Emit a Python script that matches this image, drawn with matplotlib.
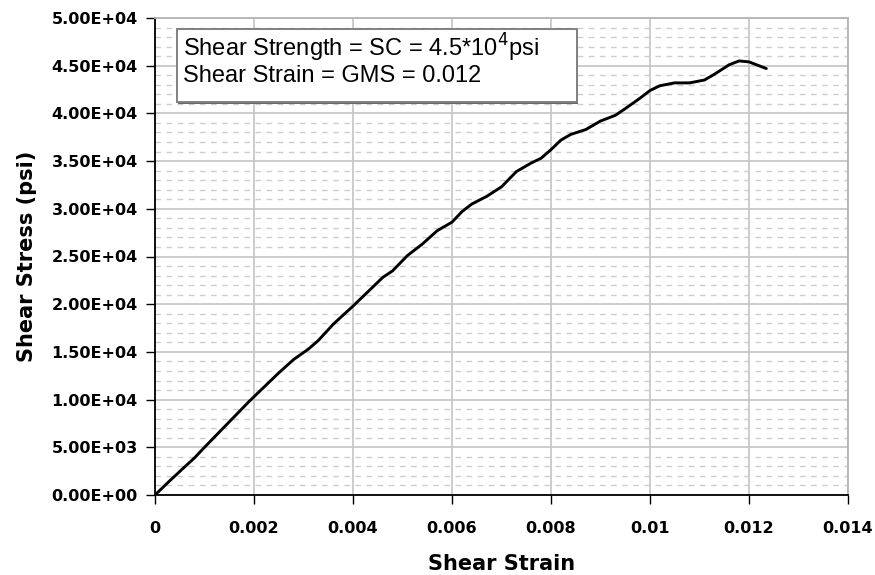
import numpy as np
from matplotlib import pyplot as plt
from matplotlib.patches import Rectangle
from matplotlib.ticker import MultipleLocator, FuncFormatter

# shear strain / shear stress
strain = [0, 0.0003, 0.0006, 0.0008, 0.0010, 0.0013, 0.0016, 0.0019, 0.0022,
          0.0025, 0.0028, 0.0031, 0.0033, 0.0036, 0.0040, 0.0043, 0.0046,
          0.0048, 0.0051, 0.0054, 0.0057, 0.0060, 0.0062, 0.0064, 0.0067,
          0.0070, 0.0073, 0.0076, 0.0078, 0.0080, 0.0082, 0.0084, 0.0087,
          0.0090, 0.0093, 0.0095, 0.0098, 0.0100, 0.0102, 0.0105, 0.0108,
          0.0111, 0.0113, 0.0116, 0.0118, 0.0120, 0.0122, 0.01235]
stress = [0, 1500, 2950, 3900, 5000, 6600, 8200, 9800, 11300,
          12800, 14200, 15300, 16200, 17900, 19800, 21300, 22800,
          23500, 25100, 26300, 27700, 28600, 29700, 30500, 31300,
          32300, 33900, 34800, 35300, 36200, 37200, 37800, 38300,
          39200, 39800, 40500, 41600, 42400, 42900, 43200, 43200,
          43500, 44100, 45100, 45500, 45400, 45000, 44700]

box_lines = ['Shear Strength = SC = 4.5*10$^{4}$psi',
             'Shear Strain = GMS = 0.012']

fig = plt.figure(figsize=(8.75, 5.75), dpi=100)
ax = fig.add_axes([155/875, 1-495/575, 693/875, 477/575])

#grid: solid at major ticks, dashed at minor y ticks
ax.set_axisbelow(True)
ax.xaxis.set_major_locator(MultipleLocator(0.002))
ax.yaxis.set_major_locator(MultipleLocator(5000))
ax.yaxis.set_minor_locator(MultipleLocator(1000))
ax.grid(which='major', color='#c4c4c4', linewidth=1.2, linestyle='-')
ax.yaxis.grid(which='minor', color='#cdcdcd', linewidth=1.0,
              linestyle=(0, (4, 4)))

ax.plot(strain, stress, color='black', linewidth=2.1, solid_capstyle='round',
        solid_joinstyle='round')

ax.set_xlim(0, 0.014)
ax.set_ylim(0, 50000)

fmt = lambda v, p: '{:.2E}'.format(v)
ax.yaxis.set_major_formatter(FuncFormatter(fmt))
ax.xaxis.set_major_formatter(FuncFormatter(lambda v, p: '{:g}'.format(round(v, 4))))

ax.tick_params(which='major', direction='out', length=6.5, width=1, color='black')
ax.tick_params(axis='y', which='minor', length=0)
ax.tick_params(axis='x', pad=12)
ax.tick_params(axis='y', pad=6)
for lab in ax.get_xticklabels() + ax.get_yticklabels():
    lab.set_fontfamily('DejaVu Sans')
    lab.set_fontweight('bold')
    lab.set_fontsize(11.5)

for s in ['left', 'bottom']:
    ax.spines[s].set_color('black')
    ax.spines[s].set_linewidth(1.3)
for s in ['top', 'right']:
    ax.spines[s].set_color('#b4b4b4')
    ax.spines[s].set_linewidth(1.3)

ax.set_xlabel('Shear Strain', fontfamily='DejaVu Sans', fontweight='bold',
              fontsize=15, labelpad=13)
ax.set_ylabel('Shear Stress (psi)', fontfamily='DejaVu Sans', fontweight='bold',
              fontsize=15, labelpad=10)

#text box with a dark shadow edge
box_x0, box_y0 = (177-155)/693, (495-102)/477
box_w, box_h = (577-177)/693, 73/477
ax.add_patch(Rectangle((box_x0 + 0.002, box_y0 - 0.004), box_w, box_h,
                       transform=ax.transAxes, facecolor='#666666',
                       edgecolor='none', zorder=4))
ax.add_patch(Rectangle((box_x0, box_y0), box_w, box_h, transform=ax.transAxes,
                       facecolor='white', edgecolor='#808080', linewidth=1.4,
                       zorder=5))
ax.text((183-155)/693, (495-48)/477, box_lines[0], transform=ax.transAxes,
        va='center', ha='left', fontfamily='Liberation Sans', fontsize=17,
        zorder=6)
ax.text((183-155)/693, (495-76)/477, box_lines[1], transform=ax.transAxes,
        va='center', ha='left', fontfamily='Liberation Sans', fontsize=17,
        zorder=6)

fig.savefig('out.png', dpi=100)
